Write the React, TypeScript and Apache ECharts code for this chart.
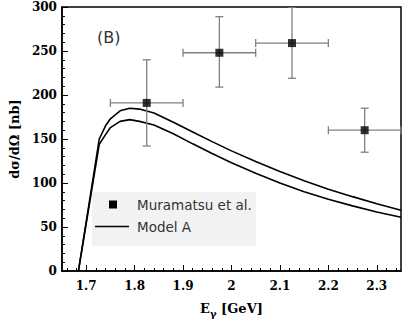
import React, { useEffect, useRef } from "react";
import * as echarts from "echarts";

const majorX = [1.7, 1.8, 1.9, 2.0, 2.1, 2.2, 2.3];
const minorX = [1.66, 1.68, 1.72, 1.74, 1.76, 1.78, 1.82, 1.84, 1.86, 1.88, 1.92, 1.94, 1.96, 1.98, 2.02, 2.04, 2.06, 2.08, 2.12, 2.14, 2.16, 2.18, 2.22, 2.24, 2.26, 2.28, 2.32, 2.34];

// Muramatsu et al. data
const dataE = [1.825, 1.975, 2.125, 2.275];
const dataY = [191, 248, 259, 160];
const dataELow = [1.75, 1.9, 2.05, 2.2];
const dataEHigh = [1.9, 2.05, 2.2, 2.35];
const dataYLow = [142, 209, 219, 135];
const dataYHigh = [240, 289, 300, 185];

// Model A curves
const curveE = [1.684, 1.727, 1.74, 1.75, 1.77, 1.79, 1.81, 1.84, 1.88, 1.92, 1.96, 2.0, 2.05, 2.1, 2.15, 2.2, 2.25, 2.3, 2.35];
const modelUpper = [0, 150, 165, 173, 182, 185, 184, 179.5, 169, 158, 147, 136.5, 124.5, 113, 102.5, 93, 84.5, 76.5, 69];
const modelLower = [0, 144, 155, 163, 170, 172, 170, 166, 156, 144.5, 133.5, 123, 111, 100, 90, 81.5, 74, 67, 61];

export default function App() {
  const ref = useRef<HTMLDivElement>(null);
  useEffect(() => {
    const chart = echarts.init(ref.current!, null, { renderer: "svg" });
    const labelFont = { fontFamily: "DejaVu Serif", fontWeight: "bold" as const, fontSize: 12, color: "#000" };
    const errData = dataE.map((e, i) => [e, dataY[i], dataELow[i], dataEHigh[i], dataYLow[i], dataYHigh[i]]);
    chart.setOption({
      animation: false,
      grid: { left: 54, top: 7, right: 8, bottom: 56, show: true, borderColor: "#000", borderWidth: 1.5, backgroundColor: "transparent" },
      xAxis: [
        {
          type: "value",
          min: 1.65,
          max: 2.35,
          interval: 0.05,
          splitLine: { show: false },
          axisLine: { lineStyle: { color: "#000", width: 1.5 } },
          axisTick: { inside: true, length: 6, customValues: majorX, lineStyle: { color: "#000" } },
          axisLabel: {
            ...labelFont,
            margin: 9,
            customValues: majorX,
            formatter: (v: number) => (Math.abs(v - 2) < 1e-9 ? "2" : v.toFixed(1)),
          },
          name: "{e|E}{g|γ}{e| [GeV]}",
          nameLocation: "middle",
          nameGap: 31,
          nameTextStyle: {
            rich: {
              e: { fontFamily: "DejaVu Serif", fontWeight: "bold", fontSize: 13, color: "#000" },
              g: { fontFamily: "DejaVu Serif", fontWeight: "bold", fontSize: 10, color: "#000", verticalAlign: "bottom", padding: [0, 0, -3, 0] },
            },
          },
        },
        {
          type: "value",
          min: 1.65,
          max: 2.35,
          interval: 0.05,
          position: "bottom",
          splitLine: { show: false },
          axisLine: { show: false },
          axisTick: { inside: true, length: 3, customValues: minorX, lineStyle: { color: "#000" } },
          axisLabel: { show: false },
        },
      ],
      yAxis: {
        type: "value",
        min: 0,
        max: 300,
        interval: 50,
        splitLine: { show: false },
        axisLine: { show: true, lineStyle: { color: "#000", width: 1.5 } },
        axisTick: { show: true, inside: true, length: 6, lineStyle: { color: "#000" } },
        minorTick: { show: true, splitNumber: 5, length: 3, lineStyle: { color: "#000" } },
        axisLabel: { ...labelFont, margin: 5 },
        name: "dσ/dΩ [nb]",
        nameLocation: "middle",
        nameGap: 32,
        nameTextStyle: { fontFamily: "DejaVu Serif", fontWeight: "bold", fontSize: 13, color: "#000" },
      },
      series: [
        {
          name: "Model A",
          type: "line",
          data: curveE.map((e, i) => [e, modelUpper[i]]),
          showSymbol: false,
          lineStyle: { color: "#000", width: 1.6 },
          z: 2,
        },
        {
          name: "Model A (2)",
          type: "line",
          data: curveE.map((e, i) => [e, modelLower[i]]),
          showSymbol: false,
          lineStyle: { color: "#000", width: 1.6 },
          z: 2,
        },
        {
          name: "errors",
          type: "custom",
          clip: true,
          data: errData,
          renderItem: (params: any, api: any) => {
            const x = api.value(0), y = api.value(1);
            const c = api.coord([x, y]);
            const l = api.coord([api.value(2), y]);
            const r = api.coord([api.value(3), y]);
            const lo = api.coord([x, api.value(4)]);
            const hi = api.coord([x, api.value(5)]);
            const style = { stroke: "#808080", lineWidth: 1.3 };
            const cap = 4;
            return {
              type: "group",
              children: [
                { type: "line", shape: { x1: l[0], y1: c[1], x2: r[0], y2: c[1] }, style },
                { type: "line", shape: { x1: c[0], y1: lo[1], x2: c[0], y2: hi[1] }, style },
                { type: "line", shape: { x1: l[0], y1: c[1] - cap, x2: l[0], y2: c[1] + cap }, style },
                { type: "line", shape: { x1: r[0], y1: c[1] - cap, x2: r[0], y2: c[1] + cap }, style },
                { type: "line", shape: { x1: c[0] - cap, y1: lo[1], x2: c[0] + cap, y2: lo[1] }, style },
                { type: "line", shape: { x1: c[0] - cap, y1: hi[1], x2: c[0] + cap, y2: hi[1] }, style },
              ],
            };
          },
          z: 3,
        },
        {
          name: "Muramatsu et al.",
          type: "scatter",
          data: dataE.map((e, i) => [e, dataY[i]]),
          symbol: "rect",
          symbolSize: 8,
          itemStyle: { color: "#000" },
          z: 4,
        },
      ],
      graphic: [
        { type: "text", left: 97, top: 29, style: { text: "(B)", fontFamily: "DejaVu Sans", fontSize: 16, fill: "#333" } },
        { type: "rect", shape: { x: 92, y: 192, width: 164, height: 54 }, style: { fill: "#f2f2f2" }, z: 10 },
        { type: "rect", shape: { x: 109, y: 200.5, width: 8, height: 8 }, style: { fill: "#000" }, z: 11 },
        { type: "text", x: 137, y: 205, style: { text: "Muramatsu et al.", fontFamily: "DejaVu Sans", fontSize: 13.5, fill: "#333", verticalAlign: "middle" }, z: 11 },
        { type: "line", shape: { x1: 95, y1: 226.5, x2: 129, y2: 226.5 }, style: { stroke: "#000", lineWidth: 1.5 }, z: 11 },
        { type: "text", x: 137, y: 226.5, style: { text: "Model A", fontFamily: "DejaVu Sans", fontSize: 13.5, fill: "#333", verticalAlign: "middle" }, z: 11 },
      ],
    });
    return () => chart.dispose();
  }, []);
  return <div ref={ref} style={{ width: 409, height: 327, position: "absolute", left: 0, top: 0 }} />;
}
